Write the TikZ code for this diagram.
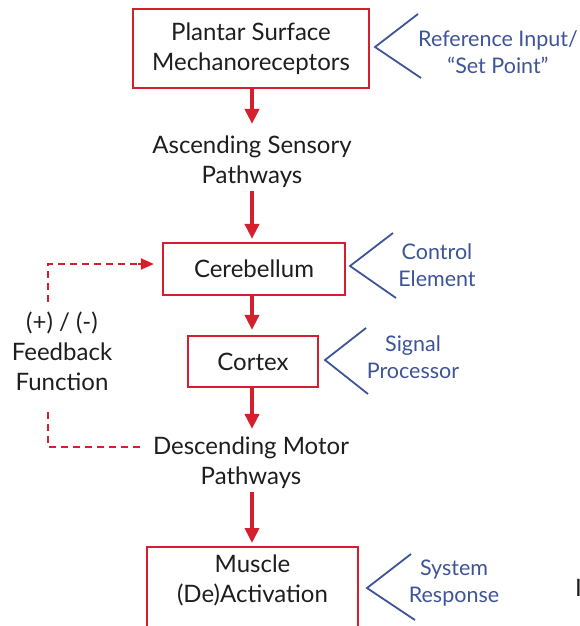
\documentclass[tikz,border=0pt]{standalone}
\usepackage{fontspec}
\setmainfont{Lato}
\usetikzlibrary{arrows.meta}
\definecolor{dred}{RGB}{212,32,44}
\definecolor{dblue}{RGB}{62,84,152}
\definecolor{dtext}{RGB}{30,30,30}
\tikzset{
  redbox/.style={draw=dred,line width=2.2pt,fill=white,align=center,inner sep=0pt,text=dtext,font=\fontsize{24}{29.5}\selectfont},
  plain/.style={align=center,inner sep=0pt,text=dtext,font=\fontsize{24}{30}\selectfont},
  bluelbl/.style={align=center,inner sep=0pt,text=dblue,font=\fontsize{21.5}{27}\selectfont},
  chev/.style={draw=dblue,line width=1.8pt},
  redarrow/.style={draw=dred,line width=3.8pt,-{Triangle[length=15pt,width=14pt]}},
  fbline/.style={draw=dred,line width=1.9pt,dash pattern=on 7pt off 5pt},
}
\begin{document}
\begin{tikzpicture}[x=1pt,y=-1pt]
\useasboundingbox (0,0) rectangle (580,626);
\clip (0,0) rectangle (580,626);
% boxes
\node[redbox,minimum width=236pt,minimum height=79pt] (b1) at (251,48.5) {Plantar Surface\\Mechanoreceptors};
\node[plain] (asc) at (252,162) {Ascending Sensory\\Pathways};
\node[redbox,minimum width=182pt,minimum height=52pt] (cer) at (254,269) {Cerebellum};
\node[redbox,minimum width=130pt,minimum height=51pt] (cor) at (253,361.5) {Cortex};
\node[plain] (desc) at (251,463) {Descending Motor\\Pathways};
\node[redbox,minimum width=211pt,minimum height=110pt,anchor=north] (mus) at (252.5,546) {};
\node[plain,anchor=north] (mustxt) at (252.5,555) {Muscle\\(De)Activation};
% arrows
\coordinate (ax) at (252,0);
\draw[redarrow] (ax |- b1.south) -- ([yshift=12pt]ax |- asc.north);
\draw[redarrow] ([yshift=-3pt]ax |- asc.south) -- ([yshift=3pt]ax |- cer.north);
\draw[redarrow] (ax |- cer.south) -- ([yshift=5pt]ax |- cor.north);
\draw[redarrow] (ax |- cor.south) -- ([yshift=8pt]ax |- desc.north);
\draw[redarrow] ([yshift=-3pt]ax |- desc.south) -- ([yshift=3pt]ax |- mus.north);
% feedback
\node[plain] (fb) at (62,351) {(+) / (-)\\Feedback\\Function};
\coordinate (fbtop) at (48,264);
\coordinate (fbbot) at (48,447);
\draw[fbline] (48,302) -- (fbtop) -- ([xshift=-10pt]cer.west |- fbtop);
\draw[draw=dred,line width=1.9pt,-{Triangle[length=13pt,width=11pt]}] ([xshift=-24pt]cer.west |- fbtop) -- ([xshift=-8pt]cer.west |- fbtop);
\draw[fbline] (48,412) -- (fbbot) -- ([xshift=-8pt]desc.west |- fbbot);
% chevrons and labels
\draw[chev] (418,14) -- (375,47) -- (421,78);
\node[bluelbl] (l1) at (498,52) {Reference Input/\\``Set Point''};
\draw[chev] (393,233) -- (350,266) -- (396,298);
\node[bluelbl] (l2) at (437,265) {Control\\Element};
\draw[chev] (366,328) -- (325,360) -- (368,394);
\node[bluelbl] (l3) at (413,357) {Signal\\Processor};
\draw[chev] (411,554) -- (367,588) -- (415,620);
\node[bluelbl] (l4) at (454,583) {System\\Response};
\node[plain,anchor=west] (cut) at (575,588) {I};
\end{tikzpicture}
\end{document}
